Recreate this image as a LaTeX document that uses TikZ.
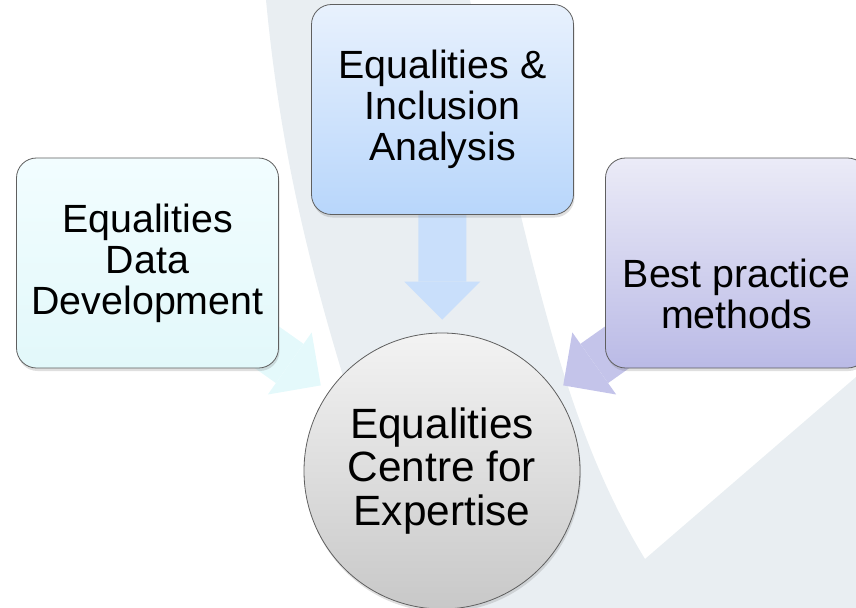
\documentclass[tikz,border=0pt]{standalone}
\usepackage{fontspec}
\setmainfont{Liberation Sans}
\usetikzlibrary{arrows.meta,shadows,backgrounds}

\definecolor{wmgray}{RGB}{233,238,242}
\definecolor{ddtop}{RGB}{242,253,255}
\definecolor{ddbot}{RGB}{226,248,250}
\definecolor{iatop}{RGB}{232,241,253}
\definecolor{iabot}{RGB}{184,214,251}
\definecolor{bptop}{RGB}{235,235,247}
\definecolor{bpbot}{RGB}{186,186,230}
\definecolor{cetop}{RGB}{243,243,243}
\definecolor{cebot}{RGB}{200,200,200}
\definecolor{ddarr}{RGB}{228,249,251}
\definecolor{iaarr}{RGB}{201,223,251}
\definecolor{bparr}{RGB}{196,196,234}
\definecolor{rim}{RGB}{95,95,95}

\tikzset{
  card/.style={rectangle, rounded corners=20bp, draw=rim, line width=0.8bp,
    minimum width=262bp, minimum height=210bp, inner sep=0pt,
    drop shadow={shadow xshift=1bp, shadow yshift=-3bp, opacity=0.25}},
  hub/.style={circle, draw=rim, line width=0.8bp, minimum size=276bp, inner sep=0pt,
    top color=cetop, bottom color=cebot,
    drop shadow={shadow xshift=1bp, shadow yshift=-3bp, opacity=0.25}},
  txt/.style={align=center, inner sep=0pt, font=\fontsize{39.5}{41}\selectfont},
  hubtxt/.style={txt, font=\fontsize{42.5}{44}\selectfont},
  feed/.style={line width=48bp, -{Triangle[width=76bp, length=38bp, line width=0pt]}}
}

\begin{document}
\begin{tikzpicture}[x=1bp, y=-1bp]
      \useasboundingbox (0,0) rectangle (856,608);
      \node [card, top color=ddtop, bottom color=ddbot] (ddd) at (147.5, 263.0) {};
      \node [card, top color=iatop, bottom color=iabot] (eia) at (442.5, 109.5) {};
      \node [card, top color=bptop, bottom color=bpbot] (bpm) at (736.5, 263.0) {};
      \node [hub]                                       (ece) at (442.0, 471.0) {};
      \node [txt]    (ddd-t) at (ddd.center) {Equalities\\Data\\Development};
      \node [txt]    (eia-t) at (eia.center) {Equalities \&\\Inclusion\\Analysis};
      \node [txt]    (bpm-t) at ([yshift=-31bp]bpm.center) {Best practice\\methods};
      \node [hubtxt] (ece-t) at (ece.center) {Equalities\\Centre for\\Expertise};
      \begin{pgfonlayer}{background}
      % faint logo behind the diagram
      \fill [wmgray] (266,0) -- (470,0) .. controls (530,250) and (560,420) .. (645,559)
            -- (856,377) -- (856,608) -- (420,608) .. controls (330,350) and (285,200) .. (266,0) -- cycle;
      \draw [feed, ddarr, shorten >=10bp] (ddd.center) -- (ece);
      \draw [feed, iaarr, shorten >=13bp] (eia.center) -- (ece);
      \draw [feed, bparr, shorten >=10bp] (bpm.center) -- (ece);
      \end{pgfonlayer}
\end{tikzpicture}
\end{document}
